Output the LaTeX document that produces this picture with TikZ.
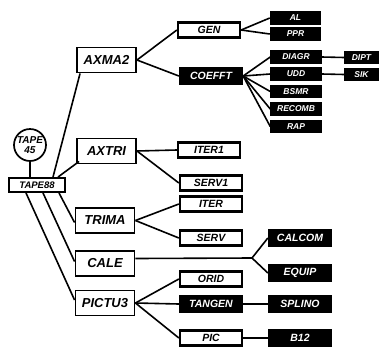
\documentclass[tikz,border=0pt]{standalone}
\usepackage{fontspec}
\setmainfont{Liberation Sans}
\usetikzlibrary{calc}
\begin{document}
\begin{tikzpicture}[x=1pt,y=-1pt,
  base/.style={draw=black,inner sep=0pt,font=\bfseries\itshape},
  lvlone/.style={base,line width=1.9pt,fill=white,minimum width=59pt,minimum height=25pt,font=\bfseries\itshape\fontsize{13}{13}\selectfont},
  lvltwo/.style={base,line width=2.3pt,fill=white,minimum width=62pt,minimum height=15pt,font=\bfseries\itshape\fontsize{10.5}{10.5}\selectfont},
  darktwo/.style={lvltwo,fill=black,text=white},
  lvlthree/.style={base,line width=1.5pt,fill=black,text=white,minimum width=50pt,minimum height=12pt,font=\bfseries\itshape\fontsize{8.5}{8.5}\selectfont},
  lvlfour/.style={lvlthree,minimum width=33pt},
  conn/.style={line width=1.6pt}]
\useasboundingbox (0,0) rectangle (383,349);
% root
\node[base,circle,line width=1.7pt,fill=white,minimum size=32pt,align=center,font=\bfseries\itshape\fontsize{10}{9.5}\selectfont] (T45) at (30,145) {TAPE\\45};
\node[base,line width=1.9pt,fill=white,minimum width=56pt,minimum height=14pt,font=\bfseries\itshape\fontsize{9.5}{9.5}\selectfont] (T88) at (37,185) {TAPE88};
% level 1
\node[lvlone] (AXMA) at (106.5,60) {AXMA2};
\node[lvlone] (AXTRI) at (106.5,151) {AXTRI};
\node[lvlone] (TRIMA) at (105,220.5) {TRIMA};
\node[lvlone] (CALE) at (105,263.5) {CALE};
\node[lvlone] (PICTU) at (105,303) {PICTU3};
% level 2
\node[lvltwo] (GEN) at (209,30) {GEN};
\node[darktwo] (COEFFT) at (211,76) {COEFFT};
\node[lvltwo] (ITERA) at (209,150) {ITER1};
\node[lvltwo] (SERVA) at (211,183) {SERV1};
\node[lvltwo] (ITER) at (211,204) {ITER};
\node[lvltwo] (SERV) at (211,238) {SERV};
\node[lvltwo] (ORID) at (211,279) {ORID};
\node[darktwo] (TANGEN) at (211,304) {TANGEN};
\node[lvltwo] (PIC) at (211,338) {PIC};
% level 3
\node[lvlthree] (AL) at (295.5,18) {AL};
\node[lvlthree] (PPR) at (295.5,34) {PPR};
\node[lvlthree] (DIAGR) at (296,57) {DIAGR};
\node[lvlthree] (UDD) at (296,74) {UDD};
\node[lvlthree] (BSMR) at (296,91.5) {BSMR};
\node[lvlthree] (RECOMB) at (296,109) {RECOMB};
\node[lvlthree] (RAP) at (296,126.5) {RAP};
\node[lvlfour] (DIPT) at (361.5,57.5) {DIPT};
\node[lvlfour] (SIK) at (361.5,74.5) {SIK};
\node[darktwo] (CALCOM) at (300,238) {CALCOM};
\node[darktwo] (EQUIP) at (300,273) {EQUIP};
\node[darktwo] (SPLINO) at (300,304) {SPLINO};
\node[darktwo] (B12) at (300,338) {B12};
\coordinate (fork) at (252,258);
% connectors
\draw[conn] (T45.south) -- (T45.south |- T88.north);
\draw[conn] ($(T88.north)+(16,0)$) -- ($(AXMA.south west)+(4,0)$);
\draw[conn] ($(T88.north)+(21,0)$) -- ($(AXTRI.south west)+(3,-3)$);
\draw[conn] ($(T88.south)+(22,0)$) -- ($(TRIMA.west)+(0,2)$);
\draw[conn] ($(T88.south)+(6,0)$) -- ($(CALE.west)+(0,-2)$);
\draw[conn] ($(T88.south)+(-11,0)$) -- ($(PICTU.west)+(0,-3)$);
\draw[conn] (AXMA.east) -- (GEN.west);
\draw[conn] (AXMA.east) -- (COEFFT.west);
\draw[conn] (AXTRI.east) -- (ITERA.west);
\draw[conn] (AXTRI.east) -- (SERVA.west);
\draw[conn] (TRIMA.east) -- (ITER.west);
\draw[conn] (TRIMA.east) -- (SERV.west);
\draw[conn] ($(CALE.east)+(0,-5)$) -- (fork);
\draw[conn] (fork) -- (CALCOM.west);
\draw[conn] (fork) -- (EQUIP.west);
\draw[conn] (PICTU.east) -- (ORID.west);
\draw[conn] (PICTU.east) -- (TANGEN.west);
\draw[conn] (PICTU.east) -- (PIC.west);
\draw[conn] (TANGEN.east) -- (SPLINO.west);
\draw[conn] (PIC.east) -- (B12.west);
\draw[conn] (GEN.east) -- (AL.west);
\draw[conn] (GEN.east) -- (PPR.west);
\draw[conn] (COEFFT.east) -- (DIAGR.west);
\draw[conn] (COEFFT.east) -- (UDD.west);
\draw[conn] (COEFFT.east) -- (BSMR.west);
\draw[conn] (COEFFT.east) -- (RECOMB.west);
\draw[conn] (COEFFT.east) -- (RAP.west);
\draw[conn] (DIAGR.east) -- (DIPT.west);
\draw[conn] (UDD.east) -- (SIK.west);
\end{tikzpicture}
\end{document}
